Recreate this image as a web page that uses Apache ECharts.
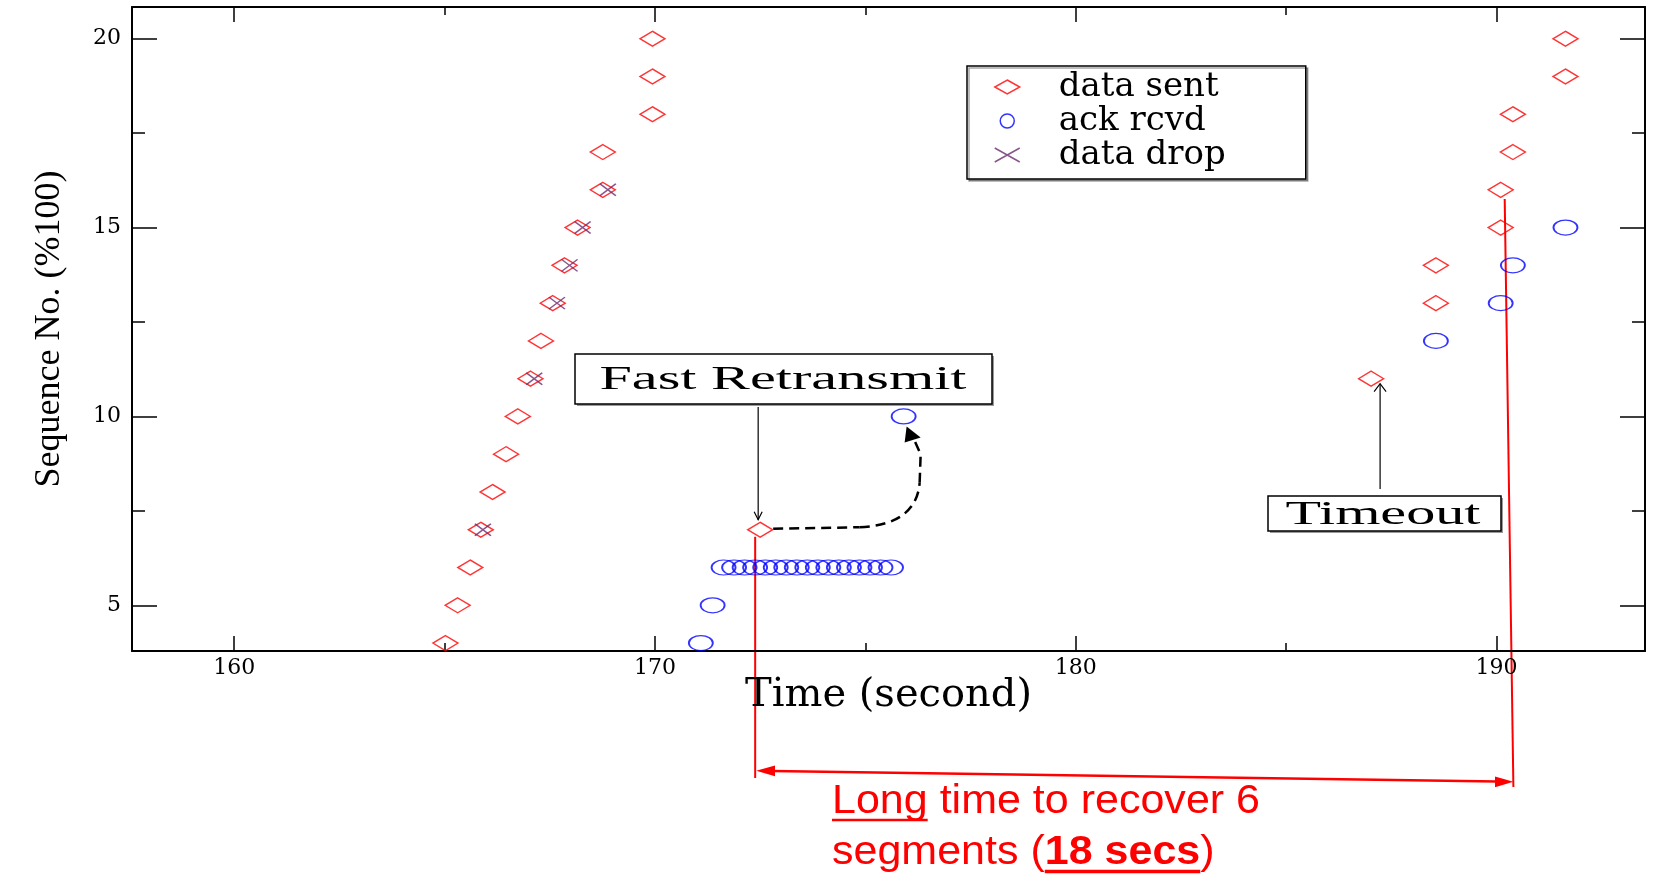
<!DOCTYPE html>
<html>
<head>
<meta charset="utf-8">
<title>Sequence No. vs Time</title>
<script src="https://cdn.jsdelivr.net/npm/echarts@6/dist/echarts.min.js"></script>
<style>
    html, body { margin: 0; padding: 0; background: #fff; }
    #chart { width: 1657px; height: 875px; }
</style>
</head>
<body>
<div id="chart"></div>
<script>
// data sent: time (second) / sequence no. (%100)
const sentTime = [165.02, 165.31, 165.61, 165.86, 166.14, 166.46, 166.74, 167.04, 167.29, 167.57, 167.85, 168.16,
    168.76, 168.76, 169.94, 169.94, 169.94, 172.50, 187.02, 188.56, 188.56, 190.10, 190.10, 190.39, 190.39, 191.64, 191.64];
const sentSeq = [4, 5, 6, 7, 8, 9, 10, 11, 12, 13, 14, 15,
    16, 17, 18, 19, 20, 7, 11, 13, 14, 15, 16, 17, 18, 19, 20];

// ack rcvd
const ackTime = [171.09, 171.37, 171.63, 171.88, 172.13, 172.38, 172.62, 172.87, 173.12, 173.37, 173.62, 173.87,
    174.12, 174.37, 174.61, 174.86, 175.11, 175.36, 175.61, 175.91, 188.56, 190.10, 190.39, 191.64];
const ackSeq = [4, 5, 6, 6, 6, 6, 6, 6, 6, 6, 6, 6,
    6, 6, 6, 6, 6, 6, 6, 10, 12, 13, 14, 15];

// data drop
const dropTime = [165.91, 167.13, 167.67, 167.97, 168.28, 168.88];
const dropSeq = [7, 11, 13, 14, 15, 16];

const xMin = 157.57, xMax = 193.53;
const yMin = 3.79, yMax = 20.84;
const xMajorTicks = [160, 170, 180, 190];
const xMinorTicks = [165, 175, 185];
const yMajorTicks = [5, 10, 15, 20];
const yMinorTicks = [7.5, 12.5, 17.5];

const SERIF = '"DejaVu Serif", serif';
const TIMES = '"Liberation Serif", "Times New Roman", serif';

function xAxisAt(position, ticks, len, withLine, withLabels) {
    let axis = {
        type: 'value',
        position: position,
        min: xMin,
        max: xMax,
        axisLine: {show: withLine, onZero: false, lineStyle: {color: '#000', width: 2}},
        axisTick: {show: true, inside: true, length: len, customValues: ticks, lineStyle: {color: '#000', width: 1.5}},
        axisLabel: {show: false},
        splitLine: {show: false}
    };
    if (withLabels) {
        axis.axisLabel = {show: true, customValues: xMajorTicks, margin: 6, color: '#000', fontSize: 22, fontFamily: SERIF};
        axis.name = 'Time (second)';
        axis.nameLocation = 'middle';
        axis.nameGap = 25;
        axis.nameMoveOverlap = false;
        axis.nameTextStyle = {color: '#000', fontSize: 40, fontFamily: SERIF};
    }
    return axis;
}

function yAxisAt(position, ticks, len, withLine, withLabels) {
    let axis = {
        type: 'value',
        position: position,
        min: yMin,
        max: yMax,
        axisLine: {show: withLine, onZero: false, lineStyle: {color: '#000', width: 2}},
        axisTick: {show: true, inside: true, length: len, customValues: ticks, lineStyle: {color: '#000', width: 1.5}},
        axisLabel: {show: false},
        splitLine: {show: false}
    };
    if (withLabels) {
        axis.axisLabel = {show: true, customValues: yMajorTicks, margin: 11, color: '#000', fontSize: 22, fontFamily: SERIF};
        axis.name = 'Sequence No. (%100)';
        axis.nameLocation = 'middle';
        axis.nameGap = 64;
        axis.nameTextStyle = {color: '#000', fontSize: 36, fontFamily: TIMES};
    }
    return axis;
}

const sentStyle = {color: 'rgba(0,0,0,0)', borderColor: '#ff0000', borderWidth: 1.5};
const ackStyle = {color: 'rgba(0,0,0,0)', borderColor: '#0000ff', borderWidth: 1.5};
const dropStyle = {color: 'rgba(0,0,0,0)', borderColor: '#6b2a6b', borderWidth: 1.5};
const crossPath = 'path://M0 0L10 10M10 0L0 10';

let chart = echarts.init(document.getElementById('chart'));

let option = {
    animation: false,
    backgroundColor: '#fff',
    grid: {left: 132, right: 12, top: 7, bottom: 224, containLabel: false, outerBoundsMode: 'none'},
    legend: {
        orient: 'vertical',
        left: 967,
        top: 66,
        padding: [4, 10, 7, 27],
        itemWidth: 25,
        itemHeight: 14,
        itemGap: 0,
        symbolKeepAspect: false,
        selectedMode: false,
        borderColor: '#000',
        borderWidth: 1.5,
        backgroundColor: '#fff',
        shadowColor: 'rgba(0,0,0,0.35)',
        shadowOffsetX: 2,
        shadowOffsetY: 2,
        textStyle: {color: '#000', fontSize: 34, fontFamily: SERIF, lineHeight: 33, width: 237, padding: [0, 0, 0, 34]},
        data: [
            {name: 'data sent', icon: 'diamond', itemStyle: sentStyle},
            {name: 'ack rcvd', icon: 'circle', itemStyle: ackStyle},
            {name: 'data drop', icon: crossPath, itemStyle: dropStyle}
        ]
    },
    xAxis: [
        xAxisAt('bottom', xMajorTicks, 15, true, true),
        xAxisAt('bottom', xMinorTicks, 8, false, false),
        xAxisAt('top', xMajorTicks, 15, true, false),
        xAxisAt('top', xMinorTicks, 8, false, false)
    ],
    yAxis: [
        yAxisAt('left', yMajorTicks, 25, true, true),
        yAxisAt('left', yMinorTicks, 13, false, false),
        yAxisAt('right', yMajorTicks, 25, true, false),
        yAxisAt('right', yMinorTicks, 13, false, false)
    ],
    series: [
        {
            name: 'data sent',
            type: 'scatter',
            symbol: 'diamond',
            symbolSize: [25, 15],
            itemStyle: sentStyle,
            emphasis: {disabled: true},
            data: sentTime.map((t, i) => [t, sentSeq[i]])
        },
        {
            name: 'ack rcvd',
            type: 'scatter',
            symbol: 'circle',
            symbolSize: [24, 15],
            itemStyle: ackStyle,
            emphasis: {disabled: true},
            data: ackTime.map((t, i) => [t, ackSeq[i]])
        },
        {
            name: 'data drop',
            type: 'scatter',
            symbol: crossPath,
            symbolSize: [16, 12],
            symbolKeepAspect: false,
            itemStyle: dropStyle,
            emphasis: {disabled: true},
            z: 3,
            data: dropTime.map((t, i) => [t, dropSeq[i]])
        }
    ]
};
chart.setOption(option);

// annotations
const measureCtx = document.createElement('canvas').getContext('2d');
function textWidth(text, font) {
    measureCtx.font = font;
    return measureCtx.measureText(text).width;
}
function toPx(t, s) {
    return chart.convertToPixel({xAxisIndex: 0, yAxisIndex: 0}, [t, s]);
}

const boxFont = '33px "Liberation Serif"';
const redFont = '41px "Liberation Sans"';
const redBold = 'bold 41px "Liberation Sans"';

let fr = toPx(172.50, 7);     // fast retransmit point
let ack10 = toPx(175.91, 10); // first new ack
let to = toPx(187.02, 11);    // timeout retransmit

let frTip = [fr[0] - 2, fr[1] - 10];
let toTip = [to[0] + 9, to[1] + 5];
let dash = {stroke: '#000', lineWidth: 2.5, fill: null, lineDash: [10, 6]};

let x0 = 832;
let k = 428 / textWidth('Long time to recover 6', redFont);
let wLong = k * textWidth('Long', redFont);
let wSeg = k * textWidth('segments (', redFont);
let wSecs = k * textWidth('18 secs', redBold);

function redText(text, x, y, font) {
    return {type: 'text', silent: true, x: x, y: y, scaleX: k,
        style: {text: text, font: font, fill: '#ff0000', align: 'left', verticalAlign: 'middle', textAlign: 'left', textVerticalAlign: 'middle'}};
}

let graphics = [
    // Fast Retransmit box
    {type: 'rect', silent: true, shape: {x: 577, y: 356, width: 417, height: 50}, style: {fill: '#9a9a9a'}},
    {type: 'rect', silent: true, shape: {x: 575, y: 354, width: 417, height: 50}, style: {fill: '#fff', stroke: '#000', lineWidth: 1.5}},
    {type: 'text', silent: true, x: 783, y: 380, scaleX: 367 / textWidth('Fast Retransmit', boxFont),
        style: {text: 'Fast Retransmit', font: boxFont, fill: '#000', align: 'center', verticalAlign: 'middle', textAlign: 'center', textVerticalAlign: 'middle'}},
    {type: 'line', silent: true, shape: {x1: frTip[0], y1: 407, x2: frTip[0], y2: frTip[1]}, style: {stroke: '#000', lineWidth: 1.2}},
    {type: 'polyline', silent: true, shape: {points: [[frTip[0] - 4, frTip[1] - 8], frTip, [frTip[0] + 4, frTip[1] - 8]]}, style: {stroke: '#000', lineWidth: 1.2, fill: null}},
    // dashed curve to the new ack
    {type: 'line', silent: true, shape: {x1: fr[0] + 13, y1: fr[1] - 1, x2: ack10[0] - 44, y2: fr[1] - 2.5}, style: dash},
    {type: 'bezierCurve', silent: true,
        shape: {x1: ack10[0] - 44, y1: fr[1] - 2.5, cpx1: ack10[0] - 7, cpy1: fr[1] - 4, cpx2: ack10[0] + 14, cpy2: fr[1] - 19, x2: ack10[0] + 16, y2: fr[1] - 47},
        style: dash},
    {type: 'polyline', silent: true,
        shape: {points: [[ack10[0] + 16, fr[1] - 47], [ack10[0] + 17, ack10[1] + 38], [ack10[0] + 10, ack10[1] + 22]]},
        style: dash},
    {type: 'polygon', silent: true, shape: {points: [[ack10[0] + 3, ack10[1] + 10], [ack10[0] + 1, ack10[1] + 26], [ack10[0] + 17, ack10[1] + 21]]}, style: {fill: '#000'}},
    // Timeout box
    {type: 'rect', silent: true, shape: {x: 1270, y: 498, width: 233, height: 35}, style: {fill: '#9a9a9a'}},
    {type: 'rect', silent: true, shape: {x: 1268, y: 496, width: 233, height: 35}, style: {fill: '#fff', stroke: '#000', lineWidth: 1.5}},
    {type: 'text', silent: true, x: 1383, y: 515, scaleX: 195 / textWidth('Timeout', boxFont),
        style: {text: 'Timeout', font: boxFont, fill: '#000', align: 'center', verticalAlign: 'middle', textAlign: 'center', textVerticalAlign: 'middle'}},
    {type: 'line', silent: true, shape: {x1: toTip[0], y1: 489, x2: toTip[0], y2: toTip[1]}, style: {stroke: '#000', lineWidth: 1.2}},
    {type: 'polyline', silent: true, shape: {points: [[toTip[0] - 6, toTip[1] + 8], toTip, [toTip[0] + 6, toTip[1] + 8]]}, style: {stroke: '#000', lineWidth: 1.2, fill: null}},
    // red recovery span
    {type: 'line', silent: true, shape: {x1: fr[0] - 5, y1: fr[1] + 7, x2: fr[0] - 5, y2: 778}, style: {stroke: '#ff0000', lineWidth: 2}},
    {type: 'line', silent: true, shape: {x1: 1504.7, y1: 199, x2: 1513.4, y2: 787}, style: {stroke: '#ff0000', lineWidth: 2}},
    {type: 'line', silent: true, shape: {x1: 772, y1: 771, x2: 1497, y2: 781.5}, style: {stroke: '#ff0000', lineWidth: 2.5}},
    {type: 'polygon', silent: true, shape: {points: [[fr[0] - 4, 770.7], [775, 765.5], [775, 776.2]]}, style: {fill: '#ff0000'}},
    {type: 'polygon', silent: true, shape: {points: [[1513.4, 781.7], [1495, 776.4], [1495, 787.2]]}, style: {fill: '#ff0000'}},
    redText('Long time to recover 6', x0, 802, redFont),
    {type: 'line', silent: true, shape: {x1: x0, y1: 820, x2: x0 + wLong, y2: 820}, style: {stroke: '#ff0000', lineWidth: 2.5}},
    redText('segments (', x0, 853, redFont),
    redText('18 secs', x0 + wSeg, 853, redBold),
    redText(')', x0 + wSeg + wSecs, 853, redFont),
    {type: 'line', silent: true, shape: {x1: x0 + wSeg, y1: 871.5, x2: x0 + wSeg + wSecs, y2: 871.5}, style: {stroke: '#ff0000', lineWidth: 3.5}}
];

chart.setOption({graphic: graphics});
</script>
</body>
</html>
